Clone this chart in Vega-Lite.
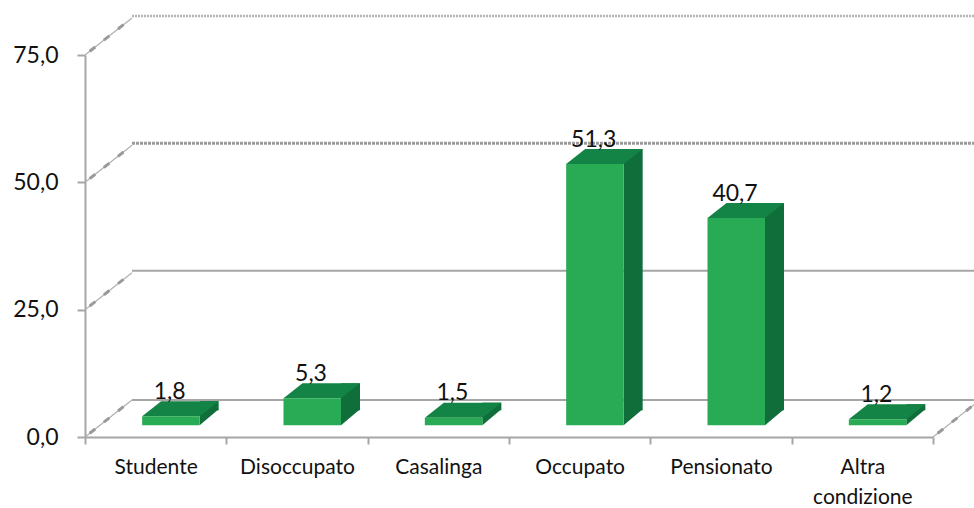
{
"$schema":"https://vega.github.io/schema/vega-lite/v6.json",
"width":848,"height":382,
"autosize":"none",
"padding":{"left":85,"top":55,"right":41,"bottom":71},
"background":"white",
"config":{"view":{"stroke":null},"font":"Lato"},
"datasets":{
"bars":[
{"cat":"Studente","val":1.8,"label":"1,8"},
{"cat":"Disoccupato","val":5.3,"label":"5,3"},
{"cat":"Casalinga","val":1.5,"label":"1,5"},
{"cat":"Occupato","val":51.3,"label":"51,3"},
{"cat":"Pensionato","val":40.7,"label":"40,7"},
{"cat":"Altra condizione","val":1.2,"label":"1,2"}],
"ticks":[{"v":0},{"v":25},{"v":50},{"v":75}]
},
"encoding":{
"x":{"field":"cat","type":"nominal","sort":null,
 "scale":{"domain":["Studente","Disoccupato","Casalinga","Occupato","Pensionato","Altra condizione"],"paddingInner":0,"paddingOuter":0},
 "axis":{"title":null,"labelAngle":0,"tickBand":"extent","domainColor":"#A6A6A6","domainWidth":2,"tickColor":"#A6A6A6","tickWidth":2,"tickSize":7,"labelFontSize":21,"labelColor":"#111111","labelPadding":12,"labelBaseline":"top","labelLineHeight":30,"labelExpr":"datum.label=='Altra condizione'?['Altra','condizione']:datum.label","labelFlush":false}},
"y":{"field":"val","type":"quantitative","scale":{"domain":[0,75],"nice":false,"zero":true},
 "axis":{"title":null,"values":[0,25,50,75],"grid":false,"domainColor":"#A6A6A6","domainWidth":2,"tickColor":"#A6A6A6","tickWidth":2,"tickSize":8,"labelFontSize":23,"labelColor":"#111111","labelPadding":19,"labelExpr":"replace(format(datum.value,'.1f'),'.',',')"}}
},
"layer":[
{"data":{"name":"ticks"},"transform":[{"filter":"datum.v==25"}],
 "mark":{"type":"rule","color":"#A6A6A6","strokeWidth":2,"yOffset":-39},
 "encoding":{"x":{"value":47},"x2":{"value":900},"y":{"field":"v","type":"quantitative"}}},
{"data":{"name":"ticks"},"transform":[{"filter":"datum.v==0"}],
 "mark":{"type":"rule","color":"#A6A6A6","strokeWidth":2,"yOffset":-37},
 "encoding":{"x":{"value":47},"x2":{"value":900},"y":{"field":"v","type":"quantitative"}}},
{"data":{"name":"ticks"},"transform":[{"filter":"datum.v==50"}],
 "mark":{"type":"rule","color":"#9A9A9A","strokeWidth":3,"strokeDash":[3,1],"yOffset":-39},
 "encoding":{"x":{"value":47},"x2":{"value":900},"y":{"field":"v","type":"quantitative"}}},
{"data":{"name":"ticks"},"transform":[{"filter":"datum.v==75"}],
 "mark":{"type":"rule","color":"#B5B5B5","strokeWidth":2.5,"strokeDash":[2,1],"yOffset":-39},
 "encoding":{"x":{"value":47},"x2":{"value":900},"y":{"field":"v","type":"quantitative"}}},
{"data":{"name":"ticks"},
 "mark":{"type":"point","filled":false,"opacity":1,"stroke":"#B0B0B0","strokeWidth":1.2,"size":4,"shape":"M0 0L47 -37"},
 "encoding":{"x":{"value":0},"y":{"field":"v","type":"quantitative"}}},
{"data":{"name":"ticks"},
 "mark":{"type":"point","filled":false,"opacity":1,"stroke":"#9A9A9A","strokeWidth":3,"strokeDash":[7,11],"strokeDashOffset":-6,"size":4,"shape":"M0 0L47 -37"},
 "encoding":{"x":{"value":0},"y":{"field":"v","type":"quantitative"}}},
{"data":{"name":"ticks"},"transform":[{"filter":"datum.v==0"}],
 "mark":{"type":"point","filled":false,"opacity":1,"stroke":"#B0B0B0","strokeWidth":1.2,"size":4,"shape":"M0 0L47 -37"},
 "encoding":{"x":{"value":848},"y":{"field":"v","type":"quantitative"}}},
{"data":{"name":"ticks"},"transform":[{"filter":"datum.v==0"}],
 "mark":{"type":"point","filled":false,"opacity":1,"stroke":"#9A9A9A","strokeWidth":3,"strokeDash":[7,11],"strokeDashOffset":-6,"size":4,"shape":"M0 0L47 -37"},
 "encoding":{"x":{"value":848},"y":{"field":"v","type":"quantitative"}}},
{"data":{"name":"bars"},
 "mark":{"type":"bar","width":19,"xOffset":53.5,"yOffset":-26.7,"y2Offset":-26.7,"color":"#106E3B"},
 "encoding":{"y2":{"datum":0}}},
{"data":{"name":"bars"},
 "mark":{"type":"point","filled":true,"opacity":1,"color":"#106E3B","strokeWidth":0,"size":4,"shape":"M44 -11.7L44 -27.7L63 -27.7Z"},
 "encoding":{"y":{"datum":0}}},
{"data":{"name":"bars"},
 "mark":{"type":"point","filled":true,"opacity":1,"color":"#138445","strokeWidth":0,"size":4,"shape":"M-13.5 -11.7L44 -11.7L63 -26.7L5.5 -26.7Z"}},
{"data":{"name":"bars"},
 "mark":{"type":"bar","width":57.5,"xOffset":15.25,"yOffset":-11.7,"y2Offset":-11.7,"color":"#28AB54"},
 "encoding":{"y2":{"datum":0}}},
{"data":{"name":"bars"},
 "mark":{"type":"text","fontSize":23,"color":"#111111","xOffset":14,"yOffset":-29,"baseline":"alphabetic","align":"center"},
 "encoding":{"text":{"field":"label"}}}
]
}
